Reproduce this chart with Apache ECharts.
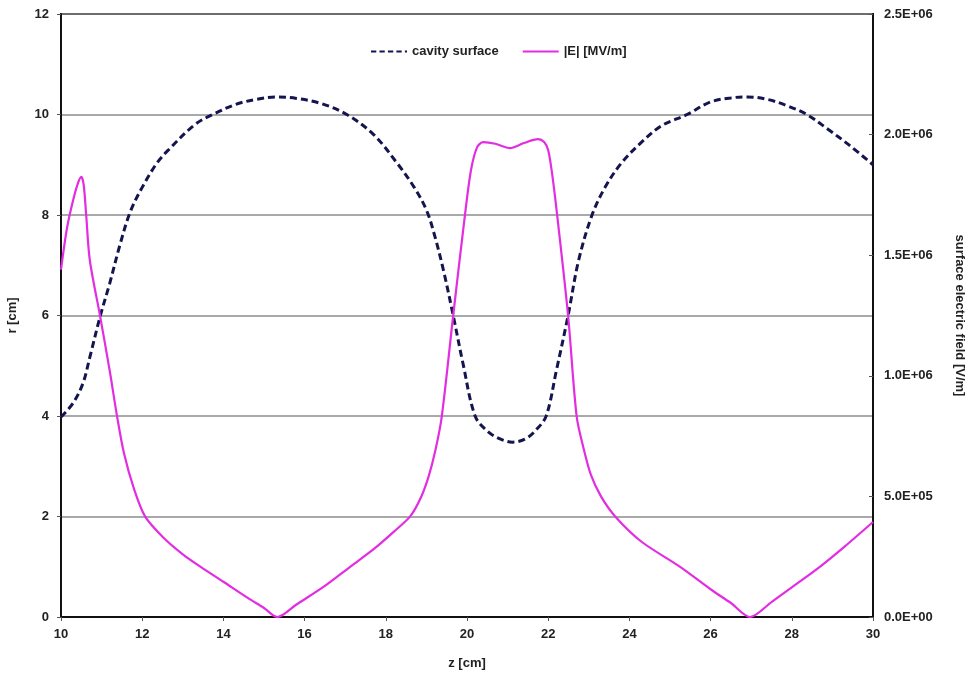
<!DOCTYPE html>
<html>
<head>
<meta charset="utf-8">
<script src="https://cdn.jsdelivr.net/npm/echarts@6/dist/echarts.min.js"></script>
<style>
html,body{margin:0;padding:0;background:#fff;}
#chart{width:969px;height:678px;}
</style>
</head>
<body>
<div id="chart"></div>
<script>
// ---- data ----
var seriesNames = ['cavity surface', '|E| [MV/m]'];
var cavityZ = [10.0,10.3,10.54,10.71,10.96,11.2,11.45,11.7,12.0,12.36,12.64,13.3,13.74,14.3,14.8,15.3,15.8,16.4,17.04,17.7,18.28,18.7,19.0,19.2,19.42,19.66,19.9,20.2,20.5,20.8,21.12,21.45,21.7,21.95,22.2,22.49,22.75,23.08,23.4,23.8,24.3,24.8,25.42,26.0,26.5,26.9,27.4,27.9,28.37,28.9,29.4,30.0];
var cavityR = [3.98,4.26,4.65,5.17,5.97,6.64,7.4,8.05,8.55,9.03,9.29,9.8,10.0,10.2,10.3,10.35,10.32,10.22,10.0,9.6,9.03,8.55,8.1,7.6,6.9,6.0,5.05,4.0,3.7,3.55,3.48,3.55,3.72,4.0,4.9,6.0,7.1,8.0,8.55,9.03,9.45,9.78,10.0,10.25,10.33,10.35,10.3,10.17,10.0,9.7,9.4,9.0];
var fieldZ = [10.0,10.15,10.3,10.42,10.5,10.56,10.62,10.71,10.96,11.2,11.38,11.55,11.8,12.07,12.5,13.0,13.44,14.0,14.6,15.0,15.33,15.8,16.5,17.12,17.7,18.2,18.6,18.85,19.05,19.22,19.38,19.66,19.95,20.1,20.25,20.4,20.7,21.06,21.4,21.75,21.9,22.0,22.1,22.22,22.49,22.7,22.87,23.05,23.3,23.65,24.3,25.25,26.0,26.5,26.97,27.5,28.1,28.69,29.3,30.0];
var fieldE = [1440000,1615000,1729000,1800000,1825000,1790000,1667000,1479000,1250000,1021000,833000,680000,530000,417000,333000,260000,208000,146000,79000,37500,0,52000,129000,208000,281000,354000,417000,490000,580000,690000,833000,1250000,1667000,1854000,1948000,1969000,1962000,1944000,1965000,1981000,1969000,1935000,1833000,1667000,1250000,833000,700000,590000,500000,417000,312000,208000,115000,58000,0,62000,135000,208000,292000,394000];
var leftTicks = {min: 0, max: 12, interval: 2};
var rightTicks = {min: 0, max: 2500000, interval: 500000};
var xTicks = {min: 10, max: 30, interval: 2};

function pairs(xs, ys){ var o=[]; for (var i=0;i<xs.length;i++) o.push([xs[i], ys[i]]); return o; }
function sci(v){
  if (v === 0) return '0.0E+00';
  var e = Math.floor(Math.log10(v)); var m = v/Math.pow(10,e);
  return m.toFixed(1) + 'E+' + (e<10?'0':'') + e;
}
var txt = {color:'#222', fontFamily:'Liberation Sans, Arial, sans-serif', fontWeight:'bold', fontSize:13};
var dashIcon = 'path://M0,0h5v2h-5z M8,0h5v2h-5z M16,0h5v2h-5z M24,0h5v2h-5z M32,0h2v2h-2z';
var solidIcon = 'path://M0,0h34v2h-34z';

var chart = echarts.init(document.getElementById('chart'), null, {renderer:'canvas'});
chart.setOption({
  animation:false,
  backgroundColor:'#fff',
  grid:{left:61, right:96, top:14, bottom:61, show:true, borderColor:'#111', borderWidth:2, backgroundColor:'transparent', outerBoundsMode:'none', containLabel:false},
  legend:{
    left:366, top:40, itemGap:24, itemWidth:36, itemHeight:3,
    textStyle:{color:'#222', fontFamily:'Liberation Sans, Arial, sans-serif', fontWeight:'bold', fontSize:13},
    data:[{name:seriesNames[0], icon:dashIcon},{name:seriesNames[1], icon:solidIcon}]
  },
  xAxis:{
    type:'value', min:xTicks.min, max:xTicks.max, interval:xTicks.interval,
    name:'z [cm]', nameLocation:'middle', nameGap:40, nameTextStyle:txt,
    axisLine:{lineStyle:{color:'#111', width:2}},
    axisTick:{show:true, length:4, lineStyle:{color:'#555'}},
    axisLabel:Object.assign({margin:11}, txt),
    splitLine:{show:false}
  },
  yAxis:[{
    type:'value', min:leftTicks.min, max:leftTicks.max, interval:leftTicks.interval,
    name:'r [cm]', nameLocation:'middle', nameGap:42, nameRotate:90, nameTextStyle:txt,
    axisLine:{show:true, lineStyle:{color:'#111', width:2}},
    axisTick:{show:true, length:4, lineStyle:{color:'#555'}},
    axisLabel:Object.assign({margin:12}, txt),
    splitLine:{show:true, lineStyle:{color:'#8c8c8c', width:1.5}}
  },{
    type:'value', position:'right', min:rightTicks.min, max:rightTicks.max, interval:rightTicks.interval,
    name:'surface electric field [V/m]', nameLocation:'middle', nameGap:80, nameRotate:-90, nameTextStyle:txt,
    axisLine:{show:true, lineStyle:{color:'#111', width:2}},
    axisTick:{show:true, length:4, inside:true, lineStyle:{color:'#555'}},
    axisLabel:Object.assign({margin:11, formatter:sci}, txt),
    splitLine:{show:false}
  }],
  series:[{
    name:seriesNames[0], type:'line', yAxisIndex:0, showSymbol:false, symbol:'none',
    smooth:0.35,
    data:pairs(cavityZ, cavityR),
    itemStyle:{color:'#14144f'},
    lineStyle:{color:'#14144f', width:3, type:[7,4]}
  },{
    name:seriesNames[1], type:'line', yAxisIndex:1, showSymbol:false, symbol:'none',
    smooth:0.3,
    data:pairs(fieldZ, fieldE),
    itemStyle:{color:'#e22ee0'},
    lineStyle:{color:'#e22ee0', width:2.2}
  }]
});
</script>
</body>
</html>
